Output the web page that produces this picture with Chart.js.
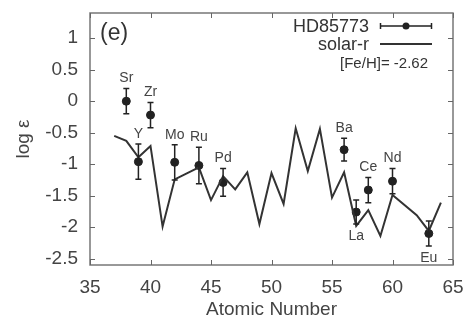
<!DOCTYPE html>
<html>
<head>
<meta charset="utf-8">
<script src="https://cdn.jsdelivr.net/npm/chart.js@4.4.1/dist/chart.umd.min.js"></script>
<style>
  html, body { margin: 0; padding: 0; background: #fff; }
  #wrap { width: 473px; height: 326px; }
</style>
</head>
<body>
<div id="wrap"><canvas id="chart" width="473" height="326"></canvas></div>
<script>
// solar r-process pattern (scaled)
const solarZ = [37, 38, 39, 40, 41, 42, 44, 45, 46, 47, 48, 49, 50, 51, 52, 53, 54, 55, 56, 57, 58, 59, 60, 62, 63, 64];
const solarLogEps = [-0.55, -0.63, -0.89, -0.71, -1.99, -1.24, -1.05, -1.57, -1.19, -1.40, -1.13, -1.95, -1.14, -1.63, -0.43, -1.11, -0.44, -1.53, -1.13, -1.98, -1.73, -2.14, -1.49, -1.81, -2.06, -1.61];

// HD85773 observed abundances
const starElems = ["Sr", "Y", "Zr", "Mo", "Ru", "Pd", "Ba", "La", "Ce", "Nd", "Eu"];
const starZ = [38, 39, 40, 42, 44, 46, 56, 57, 58, 60, 63];
const starLogEps = [0.0, -0.96, -0.22, -0.97, -1.02, -1.29, -0.77, -1.76, -1.41, -1.27, -2.10];
const starErr = [0.2, 0.28, 0.2, 0.28, 0.29, 0.22, 0.18, 0.19, 0.2, 0.2, 0.2];

const xTicks = [35, 40, 45, 50, 55, 60, 65];
const yTicks = [-2.5, -2, -1.5, -1, -0.5, 0, 0.5, 1];

const FONT = "'Liberation Sans', Arial, sans-serif";
const INK = "#333";
const belowLabels = ["La", "Eu"];

const extras = {
  id: "extras",
  afterDatasetsDraw(chart) {
    const { ctx, chartArea: a, scales: { x, y } } = chart;
    ctx.save();
    // frame
    ctx.strokeStyle = "#777";
    ctx.lineWidth = 1.5;
    ctx.strokeRect(a.left, a.top, a.right - a.left, a.bottom - a.top);
    // inner ticks on all four sides
    ctx.strokeStyle = "#666";
    ctx.lineWidth = 1;
    ctx.beginPath();
    xTicks.forEach(v => {
      const px = Math.round(x.getPixelForValue(v)) + 0.5;
      ctx.moveTo(px, a.bottom); ctx.lineTo(px, a.bottom - 5);
      ctx.moveTo(px, a.top); ctx.lineTo(px, a.top + 5);
    });
    yTicks.forEach(v => {
      const py = Math.round(y.getPixelForValue(v)) + 0.5;
      ctx.moveTo(a.left, py); ctx.lineTo(a.left + 5, py);
      ctx.moveTo(a.right, py); ctx.lineTo(a.right - 5, py);
    });
    ctx.stroke();

    // error bars
    ctx.strokeStyle = "#222";
    ctx.lineWidth = 1.5;
    starZ.forEach((z, i) => {
      const px = x.getPixelForValue(z);
      const top = y.getPixelForValue(starLogEps[i] + starErr[i]);
      const bot = y.getPixelForValue(starLogEps[i] - starErr[i]);
      ctx.beginPath();
      ctx.moveTo(px, top); ctx.lineTo(px, bot);
      ctx.moveTo(px - 3, top); ctx.lineTo(px + 3, top);
      ctx.moveTo(px - 3, bot); ctx.lineTo(px + 3, bot);
      ctx.stroke();
    });

    // element labels
    ctx.fillStyle = "#444";
    ctx.font = "14px " + FONT;
    ctx.textAlign = "center";
    starElems.forEach((el, i) => {
      const px = x.getPixelForValue(starZ[i]);
      if (belowLabels.includes(el)) {
        ctx.textBaseline = "top";
        ctx.fillText(el, px, y.getPixelForValue(starLogEps[i] - starErr[i]) + 5);
      } else {
        ctx.textBaseline = "bottom";
        ctx.fillText(el, px, y.getPixelForValue(starLogEps[i] + starErr[i]) - 3);
      }
    });

    // panel tag
    ctx.fillStyle = "#333";
    ctx.font = "23px " + FONT;
    ctx.textAlign = "left";
    ctx.textBaseline = "middle";
    ctx.fillText("(e)", a.left + 10, a.top + 21);

    // legend
    ctx.textAlign = "right";
    ctx.font = "18px " + FONT;
    ctx.fillText("HD85773", 369, 27);
    ctx.fillText("solar-r", 369, 45);
    ctx.font = "15px " + FONT;
    ctx.fillText("[Fe/H]= -2.62", 428, 64);
    ctx.strokeStyle = "#222";
    ctx.lineWidth = 1.5;
    ctx.beginPath();
    ctx.moveTo(380, 26); ctx.lineTo(432, 26);
    ctx.moveTo(380.5, 23); ctx.lineTo(380.5, 29);
    ctx.moveTo(431.5, 23); ctx.lineTo(431.5, 29);
    ctx.stroke();
    ctx.fillStyle = "#222";
    ctx.beginPath(); ctx.arc(406, 26, 3.5, 0, Math.PI * 2); ctx.fill();
    ctx.strokeStyle = INK;
    ctx.lineWidth = 2;
    ctx.beginPath(); ctx.moveTo(380, 44); ctx.lineTo(432, 44); ctx.stroke();
    ctx.restore();
  }
};

new Chart(document.getElementById("chart"), {
  type: "scatter",
  data: {
    datasets: [
      {
        label: "solar-r",
        type: "line",
        data: solarZ.map((z, i) => ({ x: z, y: solarLogEps[i] })),
        borderColor: INK,
        borderWidth: 2,
        pointRadius: 0,
        tension: 0,
        fill: false
      },
      {
        label: "HD85773",
        data: starZ.map((z, i) => ({ x: z, y: starLogEps[i] })),
        backgroundColor: "#222",
        borderColor: "#222",
        pointRadius: 4
      }
    ]
  },
  options: {
    responsive: false,
    animation: false,
    layout: { padding: { left: 0, right: 20, top: 13, bottom: 0 } },
    plugins: { legend: { display: false }, tooltip: { enabled: false } },
    scales: {
      x: {
        type: "linear",
        min: 35,
        max: 65,
        afterBuildTicks: s => { s.ticks = xTicks.map(v => ({ value: v })); },
        afterFit: s => { s.height = 61; s.paddingLeft = 0; s.paddingRight = 0; },
        grid: { display: false, drawTicks: false },
        border: { display: false },
        ticks: { color: "#444", font: { family: FONT, size: 19 }, padding: 11 },
        title: { display: true, text: "Atomic Number", color: "#444", font: { family: FONT, size: 19 }, padding: { top: 2, bottom: 5 } }
      },
      y: {
        min: -2.6,
        max: 1.4,
        afterBuildTicks: s => { s.ticks = yTicks.map(v => ({ value: v })); },
        afterFit: s => { s.width = 90; s.paddingTop = 0; s.paddingBottom = 0; },
        grid: { display: false, drawTicks: false },
        border: { display: false },
        ticks: { color: "#444", font: { family: FONT, size: 19 }, padding: 12, callback: v => String(v) },
        title: { display: true, text: "log ε", color: "#444", font: { family: FONT, size: 19 }, padding: { top: 12, bottom: 0 } }
      }
    }
  },
  plugins: [extras]
});
</script>
</body>
</html>
